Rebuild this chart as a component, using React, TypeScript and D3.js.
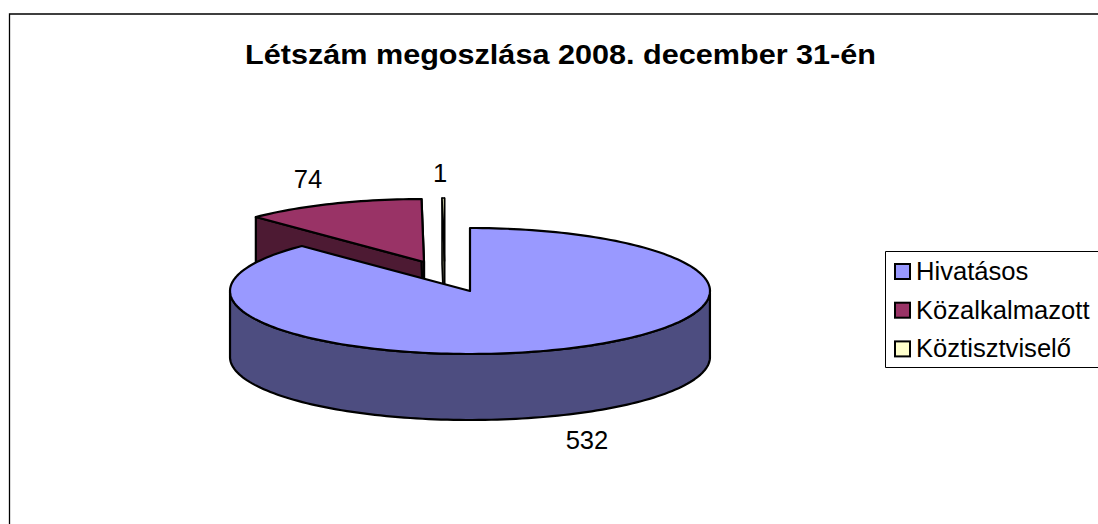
import React from "react";
import * as d3 from "d3";

const categories = ["Hivatásos", "Közalkalmazott", "Köztisztviselő"];
const values = [532, 74, 1];
const topColors = ["#9999FF", "#993366", "#FFFFCC"];
const sideColors = ["#4D4D80", "#4D1A33", "#808066"];
const centers: [number, number][] = [[470, 291], [424, 262], [444.5, 261]];
const labelPos: [number, number][] = [[587, 449], [308, 188], [440, 182]];
const RX = 240, RY = 63, DEPTH = 66;

const proj = (c: [number, number], a: number, dy = 0): [number, number] => [
  c[0] + RX * Math.sin(a),
  c[1] - RY * Math.cos(a) + dy,
];

export default function App() {
  const arcs = d3.pie<number>().sort(null)(values);
  const line = d3.line();
  const sample = (s: number, e: number) => {
    const n = Math.max(2, Math.ceil(((e - s) / (Math.PI * 2)) * 240));
    return d3.range(n + 1).map((i) => s + ((e - s) * i) / n);
  };
  const draw = [2, 1, 0];
  return (
    <svg
      width={1098}
      height={524}
      style={{ position: "absolute", left: 0, top: 0, background: "#fff" }}
      fontFamily="Liberation Sans, Arial, sans-serif"
    >
      <path d="M9.5 524V14H1098" fill="none" stroke="#000" strokeWidth={1.3} />
      <text x={560.5} y={64} textAnchor="middle" fontSize={28.5} fontWeight="bold" textLength={631} lengthAdjust="spacingAndGlyphs">
        Létszám megoszlása 2008. december 31-én
      </text>
      {draw.map((i) => {
        const c = centers[i];
        const d = arcs[i];
        const as = sample(d.startAngle, d.endAngle);
        const top = as.map((a) => proj(c, a));
        const s0 = proj(c, d.startAngle), s1 = proj(c, d.endAngle);
        const front = as.filter((a) => Math.cos(a) <= 0);
        const rim = front.length
          ? [...front.map((a) => proj(c, a)), ...front.slice().reverse().map((a) => proj(c, a, DEPTH))]
          : [];
        const wallA = i === 0 ? [] : [c, s1, [s1[0], s1[1] + DEPTH], [c[0], c[1] + DEPTH]];
        const wallB = i === 0 ? [] : [c, s0, [s0[0], s0[1] + DEPTH], [c[0], c[1] + DEPTH]];
        return (
          <g key={i} stroke="#000" strokeWidth={i === 2 ? 1.6 : 2.2} strokeLinejoin="round">
            {wallB.length > 0 && <path d={line(wallB as any)! + "Z"} fill={sideColors[i]} />}
            {wallA.length > 0 && <path d={line(wallA as any)! + "Z"} fill={sideColors[i]} />}
            {rim.length > 0 && <path d={line(rim as any)! + "Z"} fill={sideColors[i]} />}
            <path d={line([c, ...top] as any)! + "Z"} fill={topColors[i]} />
          </g>
        );
      })}
      {values.map((v, i) => (
        <text key={i} x={labelPos[i][0]} y={labelPos[i][1]} textAnchor="middle" fontSize={25.6}>
          {v}
        </text>
      ))}
      <path d="M1098 251.5H885.5V367.5H1098" fill="#fff" stroke="#000" strokeWidth={1} />
      {categories.map((name, i) => (
        <g key={name}>
          <rect x={895} y={264 + i * 38.7} width={15} height={15} fill={topColors[i]} stroke="#000" strokeWidth={2} />
          <text x={916} y={280 + i * 38.7} fontSize={25.6}>
            {name}
          </text>
        </g>
      ))}
    </svg>
  );
}
